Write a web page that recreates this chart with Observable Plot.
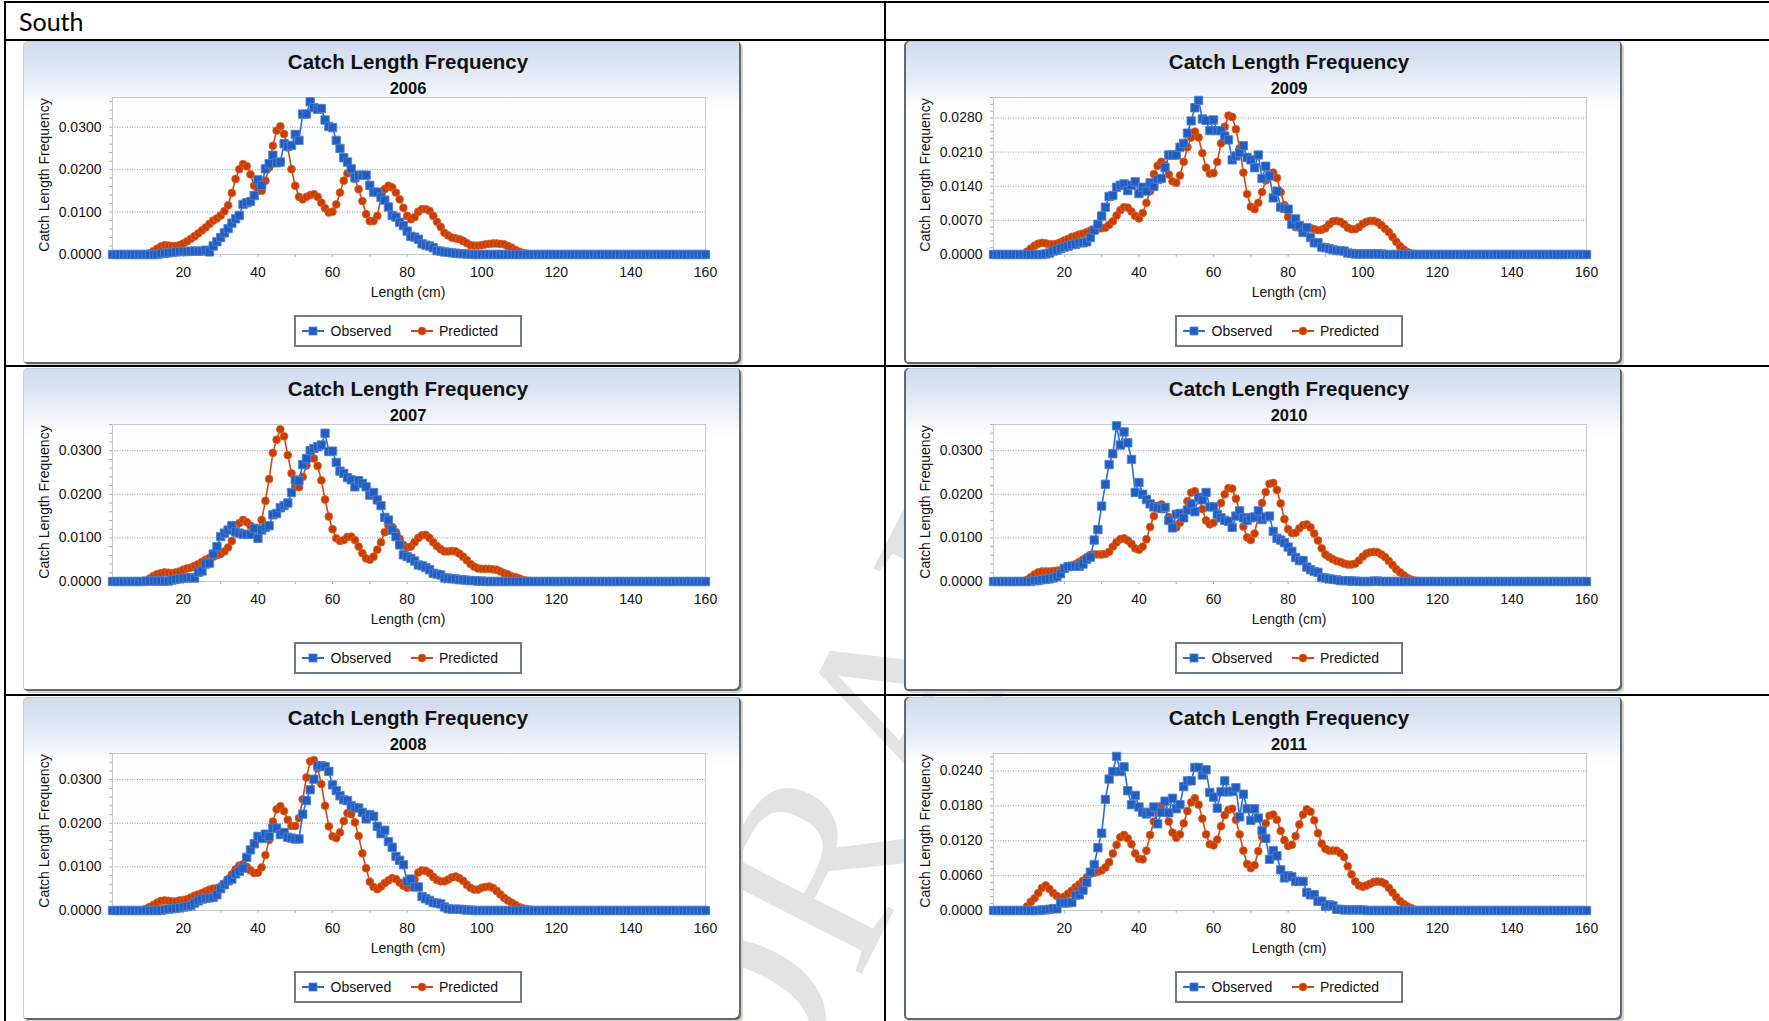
<!DOCTYPE html>
<html>
<head>
<meta charset="utf-8">
<script src="https://cdn.jsdelivr.net/npm/d3@7"></script>
<script src="https://cdn.jsdelivr.net/npm/@observablehq/plot@0.6"></script>
<style>
html, body { margin: 0; padding: 0; background: #fff; }
#page { position: relative; width: 1769px; height: 1021px; overflow: hidden; background: #fff;
  font-family: "Liberation Sans", Arial, Helvetica, sans-serif; color: #111; }
#wm { position: absolute; left: 888px; top: 725px; transform: translate(-50%, -50%) rotate(-63deg);
  font-family: "Liberation Serif", "DejaVu Serif", serif; font-size: 265px; line-height: 1; color: #e3e3e3;
  white-space: nowrap; z-index: 0; }
.panel { position: absolute; width: 718px; height: 323px; border-radius: 5px; z-index: 1; overflow: hidden;
  background: linear-gradient(to bottom, #d1dbee 0px, #dae2f1 18px, #e6ecf6 36px, #f3f6fb 52px, #ffffff 68px); }
.panel.lc { box-shadow: inset -2px -2px 0 #5c6876, inset 1px 1px 0 #c9cfd9, 2px 2px 0 #d9d3c6; }
.panel.rc { box-shadow: inset -2px -2px 0 #5c6876, inset 2px 0 0 #5c6876, inset 0 1px 0 #c9cfd9, 2px 2px 0 #d9d3c6; }
.panel svg { position: absolute; left: 0; top: 0; }
.ptitle { position: absolute; left: 185px; width: 400px; top: 9px; text-align: center; font-weight: bold;
  font-size: 20.5px; line-height: 24px; color: #111; }
.psub { position: absolute; left: 285px; width: 200px; top: 37px; text-align: center; font-weight: bold;
  font-size: 16.5px; line-height: 20px; color: #111; }
.ylab { position: absolute; left: 21px; top: 134px; transform: translate(-50%, -50%) rotate(-90deg);
  white-space: nowrap; font-size: 14px; line-height: 16px; }
.xlab { position: absolute; left: 285px; width: 200px; top: 242px; text-align: center; font-size: 14px; line-height: 18px; }
.legend { position: absolute; left: 271px; top: 274px; width: 228px; height: 32px; box-sizing: border-box;
  border: 2px solid #6e7a88; background: #fff; font-size: 14px; }
.legend .it { position: absolute; top: 0; line-height: 28px; white-space: nowrap; }
.legend svg { position: absolute; top: 8px; }
.south { position: absolute; left: 19px; top: 7px; font-family: Lato, "Open Sans", sans-serif; font-size: 25px;
  line-height: 28px; color: #000; z-index: 2; }
.ln { position: absolute; background: #000; z-index: 3; }
</style>
</head>
<body>
<div id="page">
  <div id="wm">DRAFT</div>
  <div class="south">South</div>
  <div class="ln" style="left:4px;top:1px;width:1765px;height:2px"></div>
  <div class="ln" style="left:4px;top:38.5px;width:1765px;height:2px"></div>
  <div class="ln" style="left:4px;top:365px;width:1765px;height:2px"></div>
  <div class="ln" style="left:4px;top:694px;width:1765px;height:2px"></div>
  <div class="ln" style="left:4px;top:1px;width:2px;height:1020px"></div>
  <div class="ln" style="left:884px;top:1px;width:2px;height:1020px"></div>
</div>
<script>
// ---- categories ----
const lengths = [
  1,2,3,4,5,6,7,8,9,10,11,12,13,14,15,16,17,18,19,20,
  21,22,23,24,25,26,27,28,29,30,31,32,33,34,35,36,37,38,39,40,
  41,42,43,44,45,46,47,48,49,50,51,52,53,54,55,56,57,58,59,60,
  61,62,63,64,65,66,67,68,69,70,71,72,73,74,75,76,77,78,79,80,
  81,82,83,84,85,86,87,88,89,90,91,92,93,94,95,96,97,98,99,100,
  101,102,103,104,105,106,107,108,109,110,111,112,113,114,115,116,117,118,119,120,
  121,122,123,124,125,126,127,128,129,130,131,132,133,134,135,136,137,138,139,140,
  141,142,143,144,145,146,147,148,149,150,151,152,153,154,155,156,157,158,159,160];
const years = [2006, 2007, 2008, 2009, 2010, 2011];
const xTickLabels = [20, 40, 60, 80, 100, 120, 140, 160];
const xMinorTicks = [10, 20, 30, 40, 50, 60, 70, 80, 90, 100, 110, 120, 130, 140, 150, 160];
const yTicksA = [0, 0.01, 0.02, 0.03];
const yTicks2009 = [0, 0.007, 0.014, 0.021, 0.028];
const yTicks2011 = [0, 0.006, 0.012, 0.018, 0.024];
const yMaxes = [0.037, 0.036, 0.036, 0.0322, 0.036, 0.027];
const seriesNames = ["Observed", "Predicted"];

// ---- values, in units of 0.0001 (catch length frequency x 10^4), lengths 1..160 ----
const obs2006 = [
  0,0,0,0,0,0,0,0,0,0,0,0,0,2,3,4,5,6,7,7,
  7,8,8,8,8,10,6,20,30,40,51,61,74,84,92,118,122,125,139,176,
  163,202,214,234,216,218,261,255,257,283,269,331,331,360,346,342,344,317,302,299,
  269,250,228,218,202,181,187,187,187,163,147,147,135,128,112,92,88,76,68,55,
  43,41,36,25,22,20,16,9,8,6,5,4,3,2,2,1,1,0,0,0,
  0,0,0,0,0,0,0,0,0,0,0,0,0,0,0,0,0,0,0,0,
  0,0,0,0,0,0,0,0,0,0,0,0,0,0,0,0,0,0,0,0,
  0,0,0,0,0,0,0,0,0,0,0,0,0,0,0,0,0,0,0,0];
const pred2006 = [
  0,0,0,0,0,0,0,0,0,0,3,8,14,19,22,21,20,20,22,26,
  31,37,43,50,57,64,72,80,85,92,102,116,145,178,201,213,208,189,162,150,
  150,174,205,256,292,302,284,252,201,162,136,130,136,140,142,136,122,109,99,101,
  118,146,174,191,197,178,154,126,95,79,79,91,134,154,162,158,146,130,110,91,
  83,88,101,107,107,103,91,77,65,51,45,40,38,36,32,27,22,21,21,22,
  24,25,26,26,25,24,20,16,11,7,4,2,1,0,0,0,0,0,0,0,
  0,0,0,0,0,0,0,0,0,0,0,0,0,0,0,0,0,0,0,0,
  0,0,0,0,0,0,0,0,0,0,0,0,0,0,0,0,0,0,0,0];
const obs2007 = [
  0,0,0,0,0,0,0,0,0,1,1,1,1,1,1,1,3,5,6,8,
  8,9,8,21,24,40,42,63,80,103,111,118,128,114,111,108,108,108,122,99,
  118,124,128,153,156,169,174,180,204,233,231,268,282,300,305,309,313,340,298,299,
  273,253,248,238,233,217,231,225,217,198,204,187,174,147,141,118,103,84,61,57,
  53,47,38,36,32,27,19,17,15,8,8,6,6,4,4,3,2,2,1,1,
  0,0,0,0,0,0,0,0,0,0,0,0,0,0,0,0,0,0,0,0,
  0,0,0,0,0,0,0,0,0,0,0,0,0,0,0,0,0,0,0,0,
  0,0,0,0,0,0,0,0,0,0,0,0,0,0,0,0,0,0,0,0];
const pred2007 = [
  0,0,0,0,0,0,0,0,0,0,7,13,17,19,21,20,19,21,23,27,
  30,32,36,40,45,50,54,57,60,63,69,78,93,114,134,141,136,128,120,120,
  141,185,235,295,325,349,333,290,248,218,216,240,266,287,282,265,232,188,149,120,
  99,93,95,102,103,95,80,65,53,50,57,73,90,113,128,125,113,98,84,78,
  80,90,100,106,107,100,90,81,74,69,69,70,69,64,57,49,40,34,30,29,
  29,29,28,27,23,19,16,12,10,7,4,2,1,0,0,0,0,0,0,0,
  0,0,0,0,0,0,0,0,0,0,0,0,0,0,0,0,0,0,0,0,
  0,0,0,0,0,0,0,0,0,0,0,0,0,0,0,0,0,0,0,0];
const obs2008 = [
  0,0,0,0,0,0,0,0,0,0,0,0,0,0,2,3,4,5,6,8,
  9,11,17,22,26,28,29,30,36,50,59,68,72,84,90,97,122,139,153,170,
  165,175,170,189,189,174,179,168,166,164,164,221,252,277,301,332,332,330,319,288,
  275,263,254,252,240,236,235,225,210,220,216,193,176,184,158,145,124,115,105,67,
  72,54,54,32,27,23,18,17,15,8,4,3,3,3,2,1,1,0,0,0,
  0,0,0,0,0,0,0,0,0,0,0,0,0,0,0,0,0,0,0,0,
  0,0,0,0,0,0,0,0,0,0,0,0,0,0,0,0,0,0,0,0,
  0,0,0,0,0,0,0,0,0,0,0,0,0,0,0,0,0,0,0,0];
const pred2008 = [
  0,0,0,0,0,0,0,0,0,4,8,13,18,22,23,22,21,21,23,24,
  26,30,34,37,40,44,48,50,51,55,62,72,83,94,103,106,100,92,86,87,
  99,127,162,204,232,239,228,208,194,194,212,255,305,342,345,326,290,240,193,170,
  166,179,205,223,221,202,171,131,97,66,54,49,55,63,69,74,72,64,57,52,
  56,71,87,92,91,86,77,70,67,67,71,76,78,74,68,59,52,48,48,52,
  54,55,52,45,37,29,23,18,13,8,5,3,2,1,0,0,0,0,0,0,
  0,0,0,0,0,0,0,0,0,0,0,0,0,0,0,0,0,0,0,0,
  0,0,0,0,0,0,0,0,0,0,0,0,0,0,0,0,0,0,0,0];
const obs2009 = [
  0,0,0,0,0,0,0,0,0,0,0,0,0,0,1,3,7,9,12,15,
  17,20,21,24,24,26,35,50,62,79,97,119,121,138,142,145,131,142,149,125,
  138,130,147,140,154,156,178,204,204,204,220,228,249,274,301,316,278,275,254,276,
  254,254,243,235,194,202,209,223,199,194,178,204,156,181,161,116,130,97,95,93,
  62,73,59,45,55,35,24,24,15,14,12,10,8,8,7,3,2,1,1,1,
  1,1,1,1,1,0,0,0,0,0,0,0,0,0,0,0,0,0,0,0,
  0,0,0,0,0,0,0,0,0,0,0,0,0,0,0,0,0,0,0,0,
  0,0,0,0,0,0,0,0,0,0,0,0,0,0,0,0,0,0,0,0];
const pred2009 = [
  0,0,0,0,0,0,0,0,0,6,12,18,22,24,23,21,21,22,25,29,
  32,36,38,41,43,46,49,51,53,54,55,61,68,80,91,97,96,88,79,74,
  85,106,130,165,182,190,183,164,150,147,162,190,220,240,252,240,208,178,166,167,
  190,228,262,285,282,257,218,168,124,98,93,106,128,152,166,168,157,128,101,77,
  62,56,55,55,55,54,52,50,51,54,62,68,69,67,62,55,52,52,56,63,
  67,69,69,66,60,53,46,36,26,17,10,5,2,1,0,0,0,0,0,0,
  0,0,0,0,0,0,0,0,0,0,0,0,0,0,0,0,0,0,0,0,
  0,0,0,0,0,0,0,0,0,0,0,0,0,0,0,0,0,0,0,0];
const obs2010 = [
  0,0,0,0,0,0,0,0,0,0,0,2,2,4,5,6,8,11,18,30,
  34,35,35,35,40,51,56,95,119,173,223,268,293,357,313,343,318,280,204,227,
  200,188,178,171,170,167,170,140,123,154,156,146,164,178,160,193,187,204,171,171,
  154,146,140,138,124,150,162,146,140,146,148,162,142,148,150,115,99,95,89,79,
  69,55,48,48,33,27,23,21,9,8,6,5,4,2,2,2,1,1,0,0,
  0,0,1,1,0,0,0,0,0,0,0,0,0,0,0,0,0,0,0,0,
  0,0,0,0,0,0,0,0,0,0,0,0,0,0,0,0,0,0,0,0,
  0,0,0,0,0,0,0,0,0,0,0,0,0,0,0,0,0,0,0,0];
const pred2010 = [
  0,0,0,0,0,0,0,0,0,4,10,16,21,23,23,23,24,25,26,29,
  33,36,40,45,50,56,61,62,62,62,63,68,80,90,97,99,94,86,76,73,
  80,97,125,150,173,177,167,148,132,124,135,158,184,204,207,193,166,140,131,135,
  152,180,200,214,213,190,162,126,101,95,110,150,180,205,224,226,210,179,143,120,
  111,112,122,129,131,124,110,94,76,62,56,51,47,45,41,39,39,41,48,57,
  64,67,68,67,62,56,47,38,28,21,14,8,4,2,1,0,0,0,0,0,
  0,0,0,0,0,0,0,0,0,0,0,0,0,0,0,0,0,0,0,0,
  0,0,0,0,0,0,0,0,0,0,0,0,0,0,0,0,0,0,0,0];
const obs2011 = [
  0,0,0,0,0,0,0,0,0,0,0,0,0,1,1,2,3,3,13,13,
  13,14,26,27,35,48,66,79,108,133,191,226,239,265,239,247,206,182,198,178,
  169,166,169,178,149,169,188,168,193,175,182,213,223,223,246,246,233,242,203,195,
  176,204,223,204,205,211,161,200,175,155,175,159,137,124,88,103,94,70,56,60,
  58,50,50,50,31,27,27,16,16,7,10,8,2,2,1,1,1,1,1,1,
  0,0,0,0,0,0,0,0,0,0,0,0,0,0,0,0,0,0,0,0,
  0,0,0,0,0,0,0,0,0,0,0,0,0,0,0,0,0,0,0,0,
  0,0,0,0,0,0,0,0,0,0,0,0,0,0,0,0,0,0,0,0];
const pred2011 = [
  0,0,0,0,0,0,0,0,0,7,15,21,30,39,43,37,30,25,21,24,
  29,34,40,45,51,57,63,65,67,69,74,83,98,113,126,130,124,114,98,89,
  88,103,130,153,173,180,170,153,134,125,131,150,171,186,193,182,158,131,114,112,
  122,145,164,173,175,156,131,103,80,73,78,102,127,150,163,165,156,137,121,111,
  113,128,148,165,174,170,155,133,115,106,103,103,103,99,92,76,62,50,43,41,
  43,46,49,50,49,46,39,31,23,16,11,7,4,1,0,0,0,0,0,0,
  0,0,0,0,0,0,0,0,0,0,0,0,0,0,0,0,0,0,0,0,
  0,0,0,0,0,0,0,0,0,0,0,0,0,0,0,0,0,0,0,0];

const observedSeries = [obs2006, obs2007, obs2008, obs2009, obs2010, obs2011];
const predictedSeries = [pred2006, pred2007, pred2008, pred2009, pred2010, pred2011];
const yTickSets = [yTicksA, yTicksA, yTicksA, yTicks2009, yTicksA, yTicks2011];

// ---- styles ----
const BLUE_LINE = "#2f6bd2", BLUE_FILL = "#225dbf", BLUE_EDGE = "#4f82d4";
const RED_LINE = "#d24a12", RED_FILL = "#c83d02", RED_EDGE = "#e0622a";
const FONT = "'Liberation Sans', Arial, Helvetica, sans-serif";
const colLeft = [23, 904];
const rowTop = [41, 368, 697];

const page = document.getElementById("page");
const fmt = d3.format(".4f");

years.forEach((year, i) => {
  const col = Math.floor(i / 3), row = i % 3;
  const panel = document.createElement("div");
  panel.className = "panel " + (col === 0 ? "lc" : "rc");
  panel.style.left = colLeft[col] + "px";
  panel.style.top = rowTop[row] + "px";
  page.appendChild(panel);

  const data = lengths.map((L, k) => ({
    L,
    obs: observedSeries[i][k] / 10000,
    pred: predictedSeries[i][k] / 10000
  }));
  const yTicks = yTickSets[i];
  const yMax = yMaxes[i];
  const step = yTicks[1];
  const yMinor = d3.range(0, yMax + 1e-9, step / 5);

  const svg = Plot.plot({
    width: 718,
    height: 262,
    marginLeft: 89,
    marginRight: 36,
    marginTop: 56,
    marginBottom: 49,
    style: { background: "transparent", fontFamily: FONT, fontSize: "14px", color: "#111", overflow: "visible" },
    x: { domain: [1, 160], label: null },
    y: { domain: [0, yMax], label: null },
    marks: [
      Plot.frame({ fill: "#fcfdfe", stroke: "none" }),
      Plot.gridY(yTicks.filter(v => v > 0), { stroke: "#9d9d9d", strokeOpacity: 1, strokeDasharray: "1,1.5" }),
      Plot.axisY(yMinor, { tickSize: 3, tickFormat: () => "", stroke: "#a9adb5", label: null }),
      Plot.axisY(yTicks, { tickSize: 0, tickPadding: 11, tickFormat: fmt, label: null, color: "#111", fontSize: 14 }),
      Plot.axisX(xMinorTicks, { tickSize: 3, tickFormat: () => "", stroke: "#a9adb5", label: null }),
      Plot.axisX(xTickLabels, { tickSize: 0, tickPadding: 13, label: null, color: "#111", fontSize: 14 }),
      Plot.frame({ stroke: "#c4c9d2" }),
      Plot.line(data, { x: "L", y: "pred", stroke: RED_LINE, strokeWidth: 1.6 }),
      Plot.dot(data, { x: "L", y: "pred", r: 3.9, fill: RED_FILL, stroke: RED_EDGE, strokeWidth: 0.8 }),
      Plot.line(data, { x: "L", y: "obs", stroke: BLUE_LINE, strokeWidth: 1.6 }),
      Plot.dot(data, { x: "L", y: "obs", symbol: "square", r: 4.7, fill: BLUE_FILL, stroke: BLUE_EDGE, strokeWidth: 0.9 })
    ]
  });
  panel.appendChild(svg);

  const t = document.createElement("div"); t.className = "ptitle"; t.textContent = "Catch Length Frequency"; panel.appendChild(t);
  const s = document.createElement("div"); s.className = "psub"; s.textContent = String(year); panel.appendChild(s);
  const yl = document.createElement("div"); yl.className = "ylab"; yl.textContent = "Catch Length Frequency"; panel.appendChild(yl);
  const xl = document.createElement("div"); xl.className = "xlab"; xl.textContent = "Length (cm)"; panel.appendChild(xl);

  const lg = document.createElement("div"); lg.className = "legend";
  lg.innerHTML =
    `<svg width="22" height="12" style="left:6px"><line x1="0" y1="6" x2="22" y2="6" stroke="${BLUE_LINE}" stroke-width="2"/>` +
    `<rect x="7" y="2" width="8" height="8" fill="${BLUE_FILL}" stroke="${BLUE_EDGE}" stroke-width="0.8"/></svg>` +
    `<span class="it" style="left:34.5px">${seriesNames[0]}</span>` +
    `<svg width="22" height="12" style="left:114.5px"><line x1="0" y1="6" x2="22" y2="6" stroke="${RED_LINE}" stroke-width="2"/>` +
    `<circle cx="11" cy="6" r="3.9" fill="${RED_FILL}" stroke="${RED_EDGE}" stroke-width="0.8"/></svg>` +
    `<span class="it" style="left:143px">${seriesNames[1]}</span>`;
  panel.appendChild(lg);
});
</script>
</body>
</html>
